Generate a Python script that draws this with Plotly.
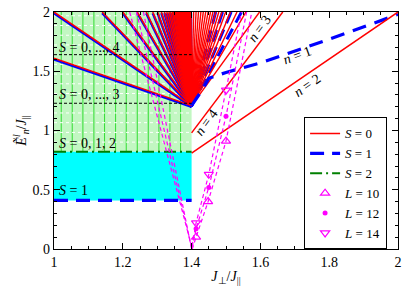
import plotly.graph_objects as go

# ---------------- data ----------------
jc = 1.4                      # J_perp/J_par where the gap closes
gap_S1 = 0.41                 # S = 1 level
gap_S2 = 0.82                 # S = 2 level
gap_S3 = 1.23                 # S = 0..3 level
gap_S4 = 1.64                 # S = 0..4 level
e_top = 2.0
x_range = [1.0, 2.0]
y_range = [0.0, 2.0]

# continuum grid inside the green band
grid_J = [1.021, 1.053, 1.084, 1.116, 1.147, 1.179, 1.21, 1.242, 1.274, 1.305, 1.337, 1.368]
grid_E = [0.902, 0.984, 1.066, 1.148, 1.312, 1.394, 1.476, 1.558, 1.722, 1.804, 1.886, 1.968]

# left fan: lines from (jc, fan_E0) to end points
fan_E0_red = 1.21
fan_E0_blue = 1.20
left_end_J = [1.0, 1.0, 1.14, 1.20, 1.242, 1.268, 1.287, 1.301, 1.312, 1.321, 1.328, 1.334,
              1.339, 1.344, 1.347, 1.351, 1.354, 1.356, 1.358, 1.360, 1.362, 1.364, 1.366,
              1.368, 1.370, 1.372, 1.374, 1.376, 1.378, 1.380, 1.382, 1.384, 1.386, 1.388,
              1.390, 1.392, 1.394, 1.396, 1.398]
left_end_E = [1.61] + [2.0] * (len(left_end_J) - 1)

# right fan (S = 0), top crossings
right_end_J = [1.5975, 1.558, 1.532, 1.513, 1.499, 1.488, 1.479, 1.470, 1.462, 1.455,
               1.448, 1.441, 1.434, 1.427, 1.420, 1.413, 1.406]
# right fan (S = 1) dashed, top crossings
right_blue_end_J = [1.47, 1.49, 1.515, 1.545]

# labelled branches
n1_J = [1.40, 1.43, 1.45, 1.50, 1.60, 1.80, 2.00]
n1_E = [1.21, 1.34, 1.44, 1.49, 1.57, 1.77, 1.98]
n2_J = [1.40, 2.00]
n2_E = [0.81, 2.00]
n4_J = [1.40, 1.665]
n4_E = [0.98, 2.00]

# finite-size gaps (dashed magenta) and markers
L10_J = [1.22, 1.402, 1.413, 1.448, 1.50, 1.575]
L10_E = [2.00, 0.00, 0.10, 0.40, 0.91, 2.00]
L12_J = [1.24, 1.401, 1.413, 1.45, 1.50, 1.56]
L12_E = [2.00, 0.00, 0.17, 0.52, 1.12, 2.00]
L14_J = [1.26, 1.400, 1.413, 1.45, 1.50, 1.545]
L14_E = [2.00, 0.00, 0.22, 0.63, 1.34, 2.00]
marker_J10 = [1.413, 1.448, 1.50]
marker_E10 = [0.10, 0.40, 0.91]
marker_J12 = [1.413, 1.45, 1.50]
marker_E12 = [0.17, 0.52, 1.12]
marker_J14 = [1.413, 1.45, 1.50]
marker_E14 = [0.22, 0.63, 1.34]

FONT = "'Liberation Serif', 'Times New Roman', serif"
RED = "#ff0000"
BLUE = "#0000ff"
MAG = "#ff00ff"
GREEN = "#008000"


def fan(ends_J, ends_E, x0, y0):
    xs, ys = [], []
    for xj, ye in zip(ends_J, ends_E):
        xs += [xj, x0, None]
        ys += [ye, y0, None]
    return xs, ys


fig = go.Figure()

# left fan: blue underneath, red on top
bx, by = fan(left_end_J, [e - (fan_E0_red - fan_E0_blue) for e in left_end_E], jc, fan_E0_blue)
fig.add_trace(go.Scatter(x=bx, y=by, mode="lines", line=dict(color=BLUE, width=2.4),
                         showlegend=False, hoverinfo="skip"))
rx, ry = fan(left_end_J, left_end_E, jc, fan_E0_red)
fig.add_trace(go.Scatter(x=rx, y=ry, mode="lines", line=dict(color=RED, width=1.5),
                         name="<i>S</i> = 0", legendrank=1, hoverinfo="skip"))

# right fan
rbx, rby = fan(right_blue_end_J, [e_top] * len(right_blue_end_J), jc, fan_E0_red)
fig.add_trace(go.Scatter(x=rbx, y=rby, mode="lines",
                         line=dict(color=BLUE, width=3, dash="12px,7px"),
                         showlegend=False, hoverinfo="skip"))
rrx, rry = fan(right_end_J, [e_top] * len(right_end_J), jc, fan_E0_red)
fig.add_trace(go.Scatter(x=rrx, y=rry, mode="lines", line=dict(color=RED, width=1.4),
                         showlegend=False, hoverinfo="skip"))

# labelled branches
fig.add_trace(go.Scatter(x=n1_J, y=n1_E, mode="lines",
                         line=dict(color=BLUE, width=3.2, dash="14px,9px"),
                         showlegend=False, hoverinfo="skip"))
fig.add_trace(go.Scatter(x=n2_J, y=n2_E, mode="lines", line=dict(color=RED, width=1.5),
                         showlegend=False, hoverinfo="skip"))
fig.add_trace(go.Scatter(x=n4_J, y=n4_E, mode="lines", line=dict(color=RED, width=1.5),
                         showlegend=False, hoverinfo="skip"))

# level lines
fig.add_trace(go.Scatter(x=[x_range[0], jc], y=[gap_S4, gap_S4], mode="lines",
                         line=dict(color="black", width=1, dash="3px,2px"),
                         showlegend=False, hoverinfo="skip"))
fig.add_trace(go.Scatter(x=[x_range[0], jc], y=[gap_S3, gap_S3], mode="lines",
                         line=dict(color="black", width=1, dash="3px,2px"),
                         showlegend=False, hoverinfo="skip"))
fig.add_trace(go.Scatter(x=[x_range[0], jc], y=[gap_S1, gap_S1], mode="lines",
                         line=dict(color=BLUE, width=3.2, dash="14px,8px"),
                         name="<i>S</i> = 1", legendrank=2, hoverinfo="skip"))
fig.add_trace(go.Scatter(x=[x_range[0], jc], y=[gap_S2, gap_S2], mode="lines",
                         line=dict(color=GREEN, width=2, dash="12px,4px,2px,4px"),
                         name="<i>S</i> = 2", legendrank=3, hoverinfo="skip"))

# magenta finite-size curves
for J, E in [(L10_J, L10_E), (L12_J, L12_E), (L14_J, L14_E)]:
    fig.add_trace(go.Scatter(x=J, y=E, mode="lines",
                             line=dict(color=MAG, width=1.2, dash="4px,3px"),
                             showlegend=False, hoverinfo="skip"))
fig.add_trace(go.Scatter(x=marker_J10, y=marker_E10, mode="markers",
                         marker=dict(symbol="triangle-up-open", size=8, color=MAG,
                                     line=dict(width=1.2)),
                         name="<i>L</i> = 10", legendrank=4))
fig.add_trace(go.Scatter(x=marker_J12, y=marker_E12, mode="markers",
                         marker=dict(symbol="circle", size=5, color=MAG),
                         name="<i>L</i> = 12", legendrank=5))
fig.add_trace(go.Scatter(x=marker_J14, y=marker_E14, mode="markers",
                         marker=dict(symbol="triangle-down-open", size=8, color=MAG,
                                     line=dict(width=1.2)),
                         name="<i>L</i> = 14", legendrank=6))

# background bands and continuum grid
shapes = [
    dict(type="rect", xref="x", yref="y", x0=x_range[0], x1=jc, y0=gap_S2, y1=e_top,
         fillcolor="#c2f7c2", line=dict(width=0), layer="below"),
    dict(type="rect", xref="x", yref="y", x0=x_range[0], x1=jc, y0=gap_S1, y1=gap_S2,
         fillcolor="#00ffff", line=dict(width=0), layer="below"),
]
for gj in grid_J:
    shapes.append(dict(type="line", xref="x", yref="y", x0=gj, x1=gj, y0=gap_S2, y1=e_top,
                       line=dict(color="#33dd33", width=1), layer="below"))
for ge in grid_E:
    shapes.append(dict(type="line", xref="x", yref="y", x0=x_range[0], x1=jc, y0=ge, y1=ge,
                       line=dict(color="white", width=1, dash="dot"), layer="below"))

ann_font = dict(family=FONT, size=14, color="black")
annotations = [
    dict(x=1.01, y=1.70, text="<i>S</i> = 0, ..., 4", showarrow=False, xanchor="left", font=ann_font),
    dict(x=1.01, y=1.30, text="<i>S</i> = 0, ..., 3", showarrow=False, xanchor="left", font=ann_font),
    dict(x=1.01, y=0.89, text="<i>S</i> = 0, 1, 2", showarrow=False, xanchor="left", font=ann_font),
    dict(x=1.01, y=0.49, text="<i>S</i> = 1", showarrow=False, xanchor="left", font=ann_font),
    dict(x=1.707, y=1.63, text="<i>n</i> = 1", showarrow=False, textangle=-20, font=ann_font),
    dict(x=1.736, y=1.377, text="<i>n</i> = 2", showarrow=False, textangle=-35, font=ann_font),
    dict(x=1.598, y=1.86, text="<i>n</i> = 3", showarrow=False, textangle=-54, font=ann_font),
    dict(x=1.443, y=1.066, text="<i>n</i> = 4", showarrow=False, textangle=-54, font=ann_font),
]

axis_common = dict(showline=True, linecolor="black", linewidth=1.2, mirror="allticks",
                   ticks="inside", ticklen=6, tickcolor="black", tickwidth=1,
                   showgrid=False, zeroline=False, ticklabeloverflow="allow",
                   tickfont=dict(family=FONT, size=14, color="black"))

fig.update_layout(
    width=407, height=287,
    margin=dict(l=54, r=5, t=5, b=38),
    paper_bgcolor="white", plot_bgcolor="white",
    font=dict(family=FONT, size=14, color="black"),
    shapes=shapes, annotations=annotations,
    xaxis=dict(range=x_range, tickvals=[1, 1.2, 1.4, 1.6, 1.8, 2],
               ticktext=["1", "1.2", "1.4", "1.6", "1.8", "2"],
               minor=dict(dtick=0.05, ticks="inside", ticklen=3, tickcolor="black"),
               title=dict(text="<i>J</i><sub>⊥</sub>/<i>J</i><sub>||</sub>", standoff=2,
                          font=dict(family=FONT, size=14)),
               **axis_common),
    yaxis=dict(range=y_range, tickvals=[0, 0.5, 1, 1.5, 2],
               ticktext=["0", "0.5", "1", "1.5", "2"],
               minor=dict(dtick=0.1, ticks="inside", ticklen=3, tickcolor="black"),
               title=dict(text="<i>Ẽ</i><sup><i>l</i></sup><sub><i>n</i></sub>/<i>J</i><sub>||</sub>",
                          standoff=2, font=dict(family=FONT, size=14)),
               **axis_common),
    legend=dict(x=0.727, y=0.555, xanchor="left", yanchor="top",
                bgcolor="white", bordercolor="black", borderwidth=1,
                font=dict(family=FONT, size=13), itemwidth=30,
                tracegroupgap=0),
    showlegend=True,
)

fig.write_html("out.html", config={"displayModeBar": False},
               post_script="document.body.style.margin='0';document.body.style.padding='0';")
